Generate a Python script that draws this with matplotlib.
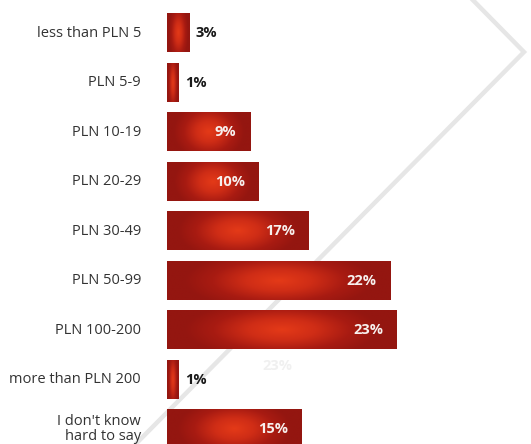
import numpy as np
import matplotlib
matplotlib.use('Agg')
import matplotlib.pyplot as plt
from matplotlib.colors import LinearSegmentedColormap

# data (bar lengths in %, labels as printed)
categories = ['less than PLN 5', 'PLN 5-9', 'PLN 10-19', 'PLN 20-29', 'PLN 30-49',
              'PLN 50-99', 'PLN 100-200', 'more than PLN 200', "I don't know\nhard to say"]
bar_lengths = [2.3, 1.2, 8.3, 9.2, 14.2, 22.3, 23.0, 1.2, 13.5]
value_labels = ['3%', '1%', '9%', '10%', '17%', '22%', '23%', '1%', '15%']
inside = [False, False, True, True, True, True, True, False, True]

plt.rcParams['font.family'] = ['Open Sans', 'DejaVu Sans']

fig = plt.figure(figsize=(5.31, 4.44), dpi=100)
ax = fig.add_axes([0, 0, 1, 1])
ax.patch.set_visible(False)
ax.set_xlim(-16.7, 36.4)
ax.set_ylim(8.303, -0.667)
ax.axis('off')

# faint chevron in the background
px = np.array([463, 524, 110]) / 531
py = 1 - np.array([-10, 52, 470]) / 444
ax.plot(px, py, color='#e6e6e6', lw=3.2, transform=ax.transAxes, clip_on=False,
        zorder=0, solid_joinstyle='miter')

cmap = LinearSegmentedColormap.from_list(
    'bar', [(0, '#e43a18'), (0.35, '#cf2d16'), (0.7, '#a81b12'), (1, '#941610')])
bar_h = 0.77
ny, nx = 60, 200
yy, xx = np.mgrid[-1:1:ny * 1j, -1:1:nx * 1j]
dist = np.sqrt(xx ** 2 + (0.55 * yy) ** 2) / 0.85
grad = np.clip(dist, 0, 1)

for i, (cat, length, lab, ins) in enumerate(zip(categories, bar_lengths, value_labels, inside)):
    top, bot = i - bar_h / 2, i + bar_h / 2
    ax.imshow(grad, cmap=cmap, vmin=0, vmax=1, extent=[0, length, bot, top],
              aspect='auto', interpolation='bilinear', zorder=2)
    ax.text(-2.6, i, cat, ha='right', va='center', fontsize=10.5, color='#333333',
            linespacing=0.95)
    if ins:
        ax.text(length - 1.4, i, lab, ha='right', va='center', fontsize=10.5,
                fontweight='bold', color='#f7f0ee', zorder=3)
    else:
        ax.text(length + 0.6, i, lab, ha='left', va='center', fontsize=10.5,
                fontweight='bold', color='#1a1a1a', zorder=3)

# ghost tooltip text left under the PLN 100-200 bar
ax.text(11.0, 6.72, value_labels[6], ha='center', va='center', fontsize=10.5,
        fontweight='bold', color='#f0f0f0', zorder=1)

ax.set_xlim(-16.7, 36.4)
ax.set_ylim(8.303, -0.667)
fig.savefig('out.png', dpi=100)
